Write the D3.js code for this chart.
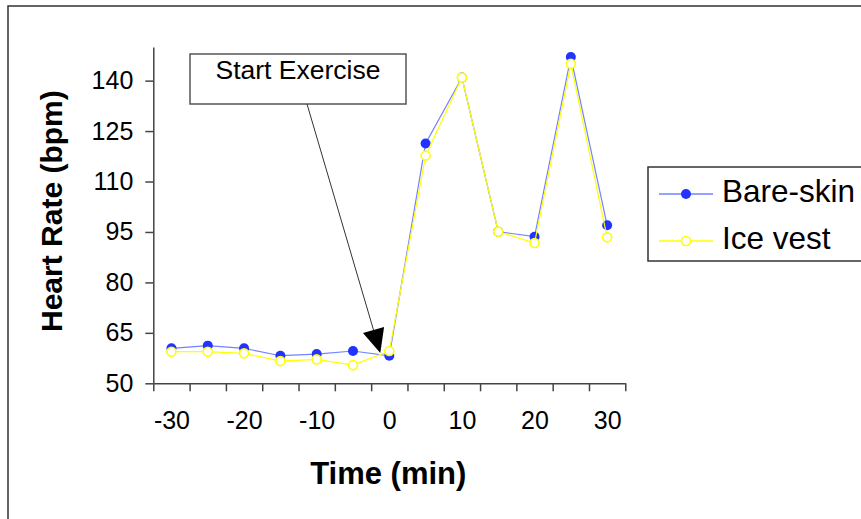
<!DOCTYPE html>
<html>
<head>
<meta charset="utf-8">
<script src="https://cdn.jsdelivr.net/npm/d3@7"></script>
<style>
  body { margin: 0; background: #fff; }
  svg { display: block; font-family: "Liberation Sans", Arial, sans-serif; }
</style>
</head>
<body>
<svg id="chart" width="861" height="519"></svg>
<script>
// ---- data ----
const times = [-30, -25, -20, -15, -10, -5, 0, 5, 10, 15, 20, 25, 30];
const bareSkin = [60.4, 61.2, 60.4, 58.2, 58.7, 59.6, 58.2, 121.3, 140.9, 95.1, 93.6, 147, 97];
const iceVest  = [59.4, 59.4, 58.9, 56.6, 57.1, 55.4, 59.6, 117.7, 140.9, 95.1, 91.7, 145, 93.4];
const yTicks = [50, 65, 80, 95, 110, 125, 140];
const xTickLabels = [-30, -20, -10, 0, 10, 20, 30];
const seriesNames = ["Bare-skin", "Ice vest"];
const annotationText = "Start Exercise";

const svg = d3.select("#chart");

// outer frame
svg.append("rect").attr("x", 8).attr("y", 6).attr("width", 880).attr("height", 540)
  .attr("fill", "none").attr("stroke", "#333").attr("stroke-width", 1.5);

const x = d3.scaleLinear().domain([-32.5, 32.5]).range([153.3, 625.3]);
const y = d3.scaleLinear().domain([50, 150]).range([383.3, 47]);

const axisColor = "#444";
const fmt = d => String(d);

// y axis
const yAxis = svg.append("g").attr("transform", `translate(${x(-32.5)},0)`)
  .call(d3.axisLeft(y).tickValues(yTicks).tickSize(8).tickPadding(12).tickSizeOuter(0).tickFormat(fmt));
yAxis.select(".domain").attr("stroke", axisColor).attr("stroke-width", 1.5);
yAxis.selectAll(".tick line").attr("stroke", axisColor).attr("stroke-width", 1.5);
yAxis.selectAll(".tick text").attr("font-size", 25).attr("fill", "#000")
  .attr("font-family", "Liberation Sans, Arial, sans-serif");

// x axis: ticks at category boundaries, labels at centres
const boundaries = times.map(t => t - 2.5).concat([times[times.length - 1] + 2.5]);
const xAxis = svg.append("g").attr("transform", `translate(0,${y(50)})`)
  .call(d3.axisBottom(x).tickValues(boundaries).tickSize(8).tickSizeOuter(0).tickFormat(""));
xAxis.select(".domain").attr("stroke", axisColor).attr("stroke-width", 1.5);
xAxis.selectAll(".tick line").attr("stroke", axisColor).attr("stroke-width", 1.5);

const xLab = svg.append("g").attr("transform", `translate(0,${y(50)})`)
  .call(d3.axisBottom(x).tickValues(xTickLabels).tickSize(0).tickPadding(28).tickFormat(fmt));
xLab.select(".domain").remove();
xLab.selectAll(".tick text").attr("font-size", 25).attr("fill", "#000")
  .attr("font-family", "Liberation Sans, Arial, sans-serif");

// axis titles
svg.append("text").attr("x", (x(-32.5) + x(32.5)) / 2 - 1).attr("y", 484)
  .attr("text-anchor", "middle").attr("font-size", 31).attr("font-weight", "bold")
  .text("Time (min)");
svg.append("text")
  .attr("transform", `translate(62,${(y(50) + y(150)) / 2 - 4}) rotate(-90)`)
  .attr("text-anchor", "middle").attr("font-size", 30).attr("font-weight", "bold")
  .text("Heart Rate (bpm)");

// series
const blueLine = "#7383ff", blueMark = "#2233ff", yellow = "#ffff00";
const line = d3.line().x((d, i) => x(times[i])).y(d => y(d));

svg.append("path").datum(bareSkin).attr("d", line)
  .attr("fill", "none").attr("stroke", blueLine).attr("stroke-width", 1.2);
svg.append("g").selectAll("circle").data(bareSkin).join("circle")
  .attr("cx", (d, i) => x(times[i])).attr("cy", d => y(d)).attr("r", 5)
  .attr("fill", blueMark);

svg.append("path").datum(iceVest).attr("d", line)
  .attr("fill", "none").attr("stroke", yellow).attr("stroke-width", 1.2);
svg.append("g").selectAll("circle").data(iceVest).join("circle")
  .attr("cx", (d, i) => x(times[i])).attr("cy", d => y(d)).attr("r", 4.5)
  .attr("fill", "#fff").attr("stroke", yellow).attr("stroke-width", 1.6);

// annotation
svg.append("rect").attr("x", 190).attr("y", 54).attr("width", 216).attr("height", 50)
  .attr("fill", "#fff").attr("stroke", "#555").attr("stroke-width", 1.5);
svg.append("text").attr("x", 298).attr("y", 79).attr("text-anchor", "middle")
  .attr("font-size", 26.5).text(annotationText);

const tipX = x(0) - 9, tipY = y(59);
const startX = 307, startY = 104;
const ang = Math.atan2(tipY - startY, tipX - startX);
const headLen = 24, headW = 11;
const baseX = tipX - headLen * Math.cos(ang), baseY = tipY - headLen * Math.sin(ang);
svg.append("line").attr("x1", startX).attr("y1", startY).attr("x2", baseX).attr("y2", baseY)
  .attr("stroke", "#333").attr("stroke-width", 1);
const px = -Math.sin(ang), py = Math.cos(ang);
svg.append("path")
  .attr("d", `M${tipX},${tipY} L${baseX + px * headW},${baseY + py * headW} L${baseX - px * headW},${baseY - py * headW} Z`)
  .attr("fill", "#000");

// legend
const lg = svg.append("g");
lg.append("rect").attr("x", 648).attr("y", 167).attr("width", 240).attr("height", 94)
  .attr("fill", "#fff").attr("stroke", "#333").attr("stroke-width", 1.5);
const legendRows = [
  { name: seriesNames[0], y: 194, line: blueLine, fill: blueMark, stroke: "none", r: 5 },
  { name: seriesNames[1], y: 241, line: yellow, fill: "#fff", stroke: yellow, r: 4.5 }
];
legendRows.forEach(r => {
  lg.append("line").attr("x1", 659).attr("x2", 713).attr("y1", r.y).attr("y2", r.y)
    .attr("stroke", r.line).attr("stroke-width", 1.5);
  lg.append("circle").attr("cx", 686).attr("cy", r.y).attr("r", r.r)
    .attr("fill", r.fill).attr("stroke", r.stroke).attr("stroke-width", 1.6);
  lg.append("text").attr("x", 722).attr("y", r.y + 8).attr("font-size", 31.5).text(r.name);
});
</script>
</body>
</html>
